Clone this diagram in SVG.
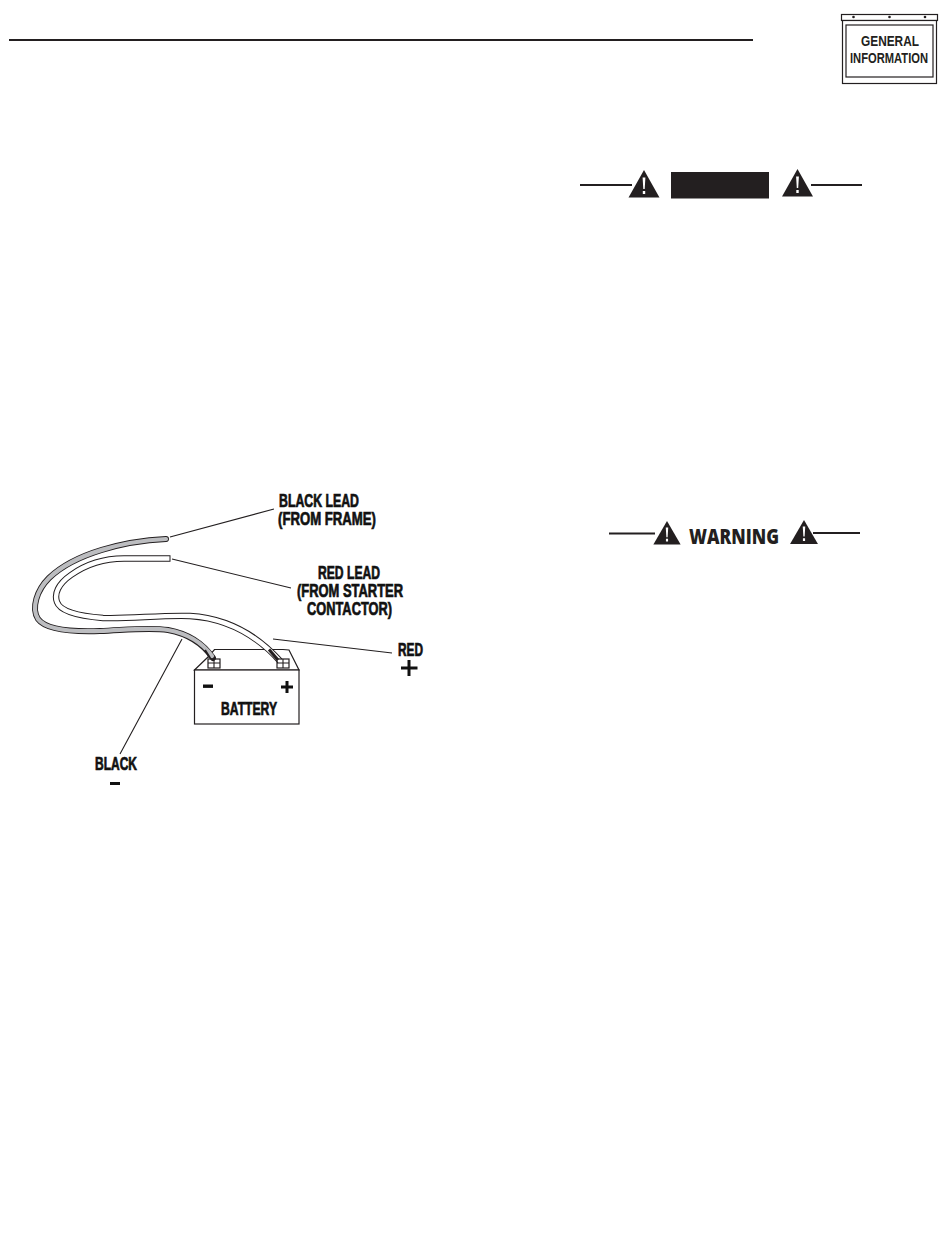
<svg xmlns="http://www.w3.org/2000/svg" width="950" height="1260" viewBox="0 0 950 1260">
<style>
.bg{fill:#fff}
.ln{fill:none;stroke:#231f20;stroke-width:1.1}
.rule{fill:none;stroke:#231f20;stroke-width:2}
.box{fill:#fff;stroke:#231f20;stroke-width:1.2}
.tri{fill:#231f20}
.ex{fill:#fff}
.lbl{font-family:"Liberation Sans",Arial,sans-serif;font-weight:700;fill:#111;stroke:#111;stroke-width:.7;font-size:17.500px}
.tab{font-family:"Liberation Sans",Arial,sans-serif;font-weight:700;fill:#231f20;font-size:14px}
.warn{font-family:"Open Sans","Liberation Sans",sans-serif;font-weight:800;fill:#231f20;font-size:21px}
.sym{fill:#111}
</style>
<defs>
<g id="alert"><path class="tri" d="M0,0L15.500,27.500H-15.500Z"/><path class="ex" d="M-1.400,7.500H1.400L.7,19H-.7ZM-1.200,21H1.200V24H-1.200Z"/></g>
</defs>
<rect class="bg" width="950" height="1260"/>
<path class="rule" d="M9,40H753"/>
<g id="tab-general-information">
<rect class="box" x="841.500" y="14.500" width="96" height="6"/>
<rect class="box" x="842.500" y="20.500" width="94" height="63"/>
<rect class="box" x="846" y="25" width="87" height="52"/>
<circle class="tri" cx="853.500" cy="17" r="1.300"/><circle class="tri" cx="889.500" cy="17" r="1.300"/><circle class="tri" cx="925" cy="17" r="1.300"/>
<text class="tab" x="861" y="46" textLength="58" lengthAdjust="spacingAndGlyphs">GENERAL</text>
<text class="tab" x="850" y="63" textLength="78" lengthAdjust="spacingAndGlyphs">INFORMATION</text>
</g>
<g id="caution-banner">
<path class="rule" d="M580,185H632M811,185H862"/>
<use href="#alert" x="644" y="170"/>
<rect class="tri" x="671" y="172" width="98" height="26.500"/>
<use href="#alert" x="797.500" y="169"/>
</g>
<g id="warning-banner">
<path class="rule" d="M609,533.500H655M813,533H860"/>
<use href="#alert" transform="translate(667 521) scale(.88 .85)"/>
<text class="warn" x="689" y="544" textLength="90" lengthAdjust="spacingAndGlyphs">WARNING</text>
<use href="#alert" transform="translate(804 520) scale(.9 .87)"/>
</g>
<g id="battery">
<path class="box" d="M194.500,670L208,657L214.500,649.500H283L289,650L299,670Z"/>
<rect class="box" x="194.500" y="670" width="104.500" height="54"/>
<text class="lbl" x="221" y="715" textLength="56" lengthAdjust="spacingAndGlyphs">BATTERY</text>
<rect class="sym" x="203" y="684.500" width="10" height="3.400"/>
<path class="sym" d="M285.500,681H288.500V685.500H293V688.500H288.500V693H285.500V688.500H281V685.500H285.500Z"/>
</g>
<g id="connectors">
<path id="red-wire" fill="none" stroke="#231f20" stroke-width="6.400" d="M170.500,558.500H124C104,558.500 85,565 71,575C58,584 54,594 57,602C60,611 78,616 103,618C130,619 160,615 190,616C222,618 254,632 280,661"/>
<path fill="none" stroke="#fff" stroke-width="4.400" d="M169.500,558.500H124C104,558.500 85,565 71,575C58,584 54,594 57,602C60,611 78,616 103,618C130,619 160,615 190,616C222,618 254,632 281,662"/>
<path fill="none" stroke="#231f20" stroke-width="3" d="M269,649.500L278,660"/>
<path id="black-wire" fill="none" stroke="#231f20" stroke-width="6" stroke-linecap="round" d="M166,539C125,541 75,553 49,578C37,590 31,608 38,619C46,630 72,632 100,631C125,630 150,627 168,630C190,634 204,645 213,658"/>
<path fill="none" stroke="#bcbdc0" stroke-width="4.200" stroke-linecap="round" d="M166,539C125,541 75,553 49,578C37,590 31,608 38,619C46,630 72,632 100,631C125,630 150,627 168,630C190,634 204,645 212,656"/>
<path fill="none" stroke="#231f20" stroke-width="2" d="M205,650L210,658"/>
<path class="ln" d="M170,537L274,509M172,559L291,588M273,639L392,653M182,639L120,754"/>
</g>
<g id="battery-terminals">
<rect class="box" fill-opacity="0" x="208" y="659" width="12" height="9"/>
<path class="ln" d="M214,659V668M208,663H220"/>
<rect class="box" fill-opacity="0" x="277" y="659" width="12" height="9"/>
<path class="ln" d="M283,659V668M277,663H289"/>
</g>
<g id="label-black-lead">
<text class="lbl" x="279" y="507" textLength="80" lengthAdjust="spacingAndGlyphs">BLACK LEAD</text>
<text class="lbl" x="278" y="524.500" textLength="98" lengthAdjust="spacingAndGlyphs">(FROM FRAME)</text>
</g>
<g id="label-red-lead">
<text class="lbl" x="318" y="579" textLength="62" lengthAdjust="spacingAndGlyphs">RED LEAD</text>
<text class="lbl" x="297" y="597" textLength="106" lengthAdjust="spacingAndGlyphs">(FROM STARTER</text>
<text class="lbl" x="307" y="615" textLength="85" lengthAdjust="spacingAndGlyphs">CONTACTOR)</text>
</g>
<g id="label-red">
<text class="lbl" x="398" y="656" textLength="25" lengthAdjust="spacingAndGlyphs">RED</text>
<path class="sym" d="M407.500,660H410.500V666.500H417.500V669.500H410.500V676H407.500V669.500H401V666.500H407.500Z"/>
</g>
<g id="label-black">
<text class="lbl" x="95" y="770" textLength="42" lengthAdjust="spacingAndGlyphs">BLACK</text>
<rect class="sym" x="110" y="782" width="10" height="3"/>
</g>
</svg>
